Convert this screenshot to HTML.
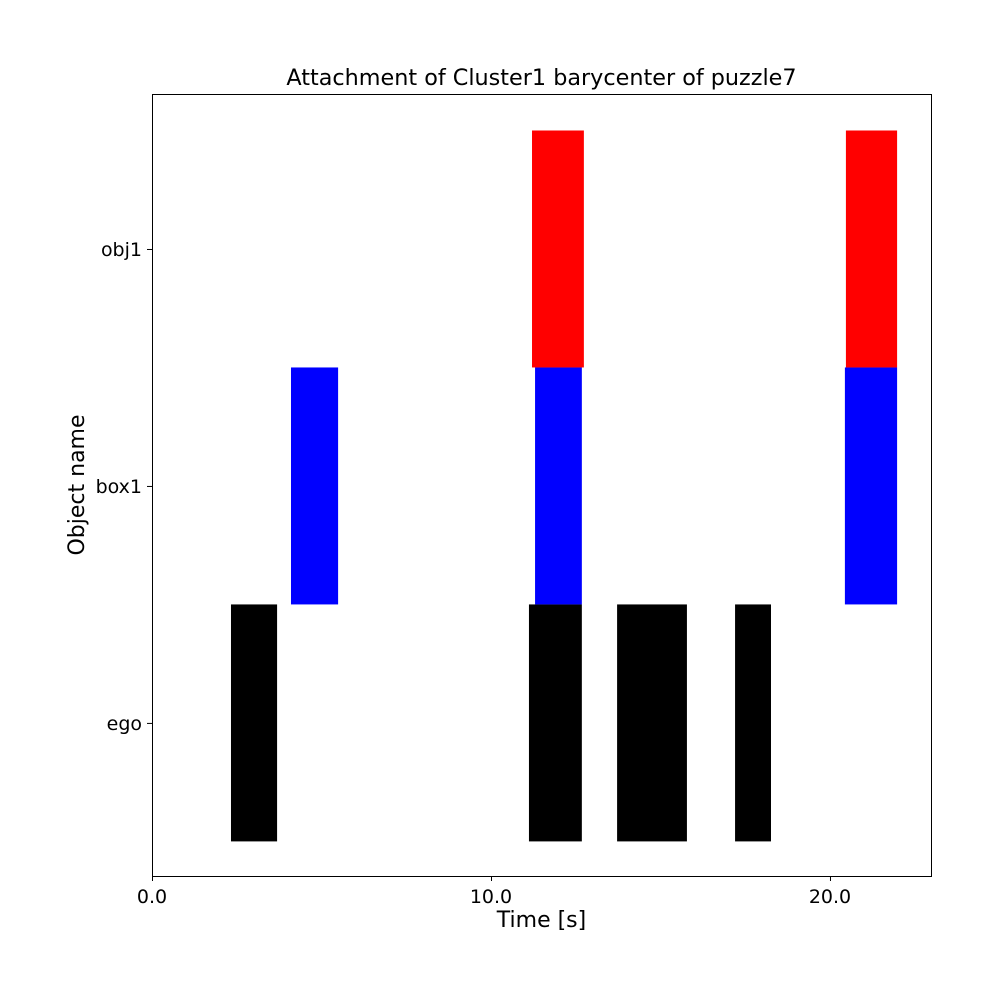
<!DOCTYPE html>
<html><head><meta charset="utf-8"><style>
body{margin:0;background:#fff;font-family:"DejaVu Sans","Liberation Sans",sans-serif;}
</style></head><body>
<svg id="chart" width="1000" height="1000" xmlns="http://www.w3.org/2000/svg">
<rect width="1000" height="1000" fill="#fff"/>
<text x="541.5" y="85" font-size="22.3" text-anchor="middle">Attachment of Cluster1 barycenter of puzzle7</text>
<g id="bars"></g>
<rect x="152.5" y="94.5" width="779" height="782" fill="none" stroke="#000" stroke-width="1"/>
<g id="ticks"></g>
<text x="541.5" y="927" font-size="22" text-anchor="middle">Time [s]</text>
<text transform="translate(84,485) rotate(-90)" font-size="22" text-anchor="middle">Object name</text>
</svg>
<script>
const categories = ["ego","box1","obj1"];
const colors = ["#000000","#0000ff","#ff0000"];
const starts = [2.33,11.12,13.72,17.2, 4.1,11.3,20.44, 11.21,20.47];
const ends =   [3.69,12.68,15.78,18.26, 5.49,12.68,21.98, 12.74,21.98];
const rows =   [0,0,0,0, 1,1,1, 2,2];
const xTicks = [0,10,20];
const xTickLabels = ["0.0","10.0","20.0"];
const X0=152,X1=931,Y0=876,Y1=94,xmin=0,xmax=22.98,ymin=-0.646,ymax=2.654;
const NS="http://www.w3.org/2000/svg";
function sx(v){return X0+(v-xmin)/(xmax-xmin)*(X1-X0);}
function sy(v){return Y0-(v-ymin)/(ymax-ymin)*(Y0-Y1);}
const bg=document.getElementById('bars');
for(let i=0;i<starts.length;i++){
  const r=document.createElementNS(NS,'rect');
  r.setAttribute('x',sx(starts[i]));r.setAttribute('width',sx(ends[i])-sx(starts[i]));
  r.setAttribute('y',sy(rows[i]+0.5));r.setAttribute('height',sy(rows[i]-0.5)-sy(rows[i]+0.5));
  r.setAttribute('fill',colors[rows[i]]);
  
  
  bg.appendChild(r);
}
const tg=document.getElementById('ticks');
xTicks.forEach((t,i)=>{
  const l=document.createElementNS(NS,'line');
  l.setAttribute('x1',sx(t)+0.5);l.setAttribute('x2',sx(t)+0.5);l.setAttribute('y1',Y0);l.setAttribute('y2',Y0+5);l.setAttribute('stroke','#000');
  
  
  tg.appendChild(l);
  const tx=document.createElementNS(NS,'text');
  tx.setAttribute('x',sx(t));tx.setAttribute('y',Y0+27);tx.setAttribute('font-size','19');tx.setAttribute('text-anchor','middle');
  tx.textContent=xTickLabels[i];
  
  
  tg.appendChild(tx);
});
categories.forEach((c,i)=>{
  const l=document.createElementNS(NS,'line');
  l.setAttribute('x1',X0-5);l.setAttribute('x2',X0);l.setAttribute('y1',sy(i)+0.5);l.setAttribute('y2',sy(i)+0.5);l.setAttribute('stroke','#000');
  
  
  tg.appendChild(l);
  const tx=document.createElementNS(NS,'text');
  tx.setAttribute('x',X0-10);tx.setAttribute('y',sy(i)+7);tx.setAttribute('font-size','19');tx.setAttribute('text-anchor','end');
  tx.textContent=c;
  
  
  tg.appendChild(tx);
});
</script>
</body></html>
